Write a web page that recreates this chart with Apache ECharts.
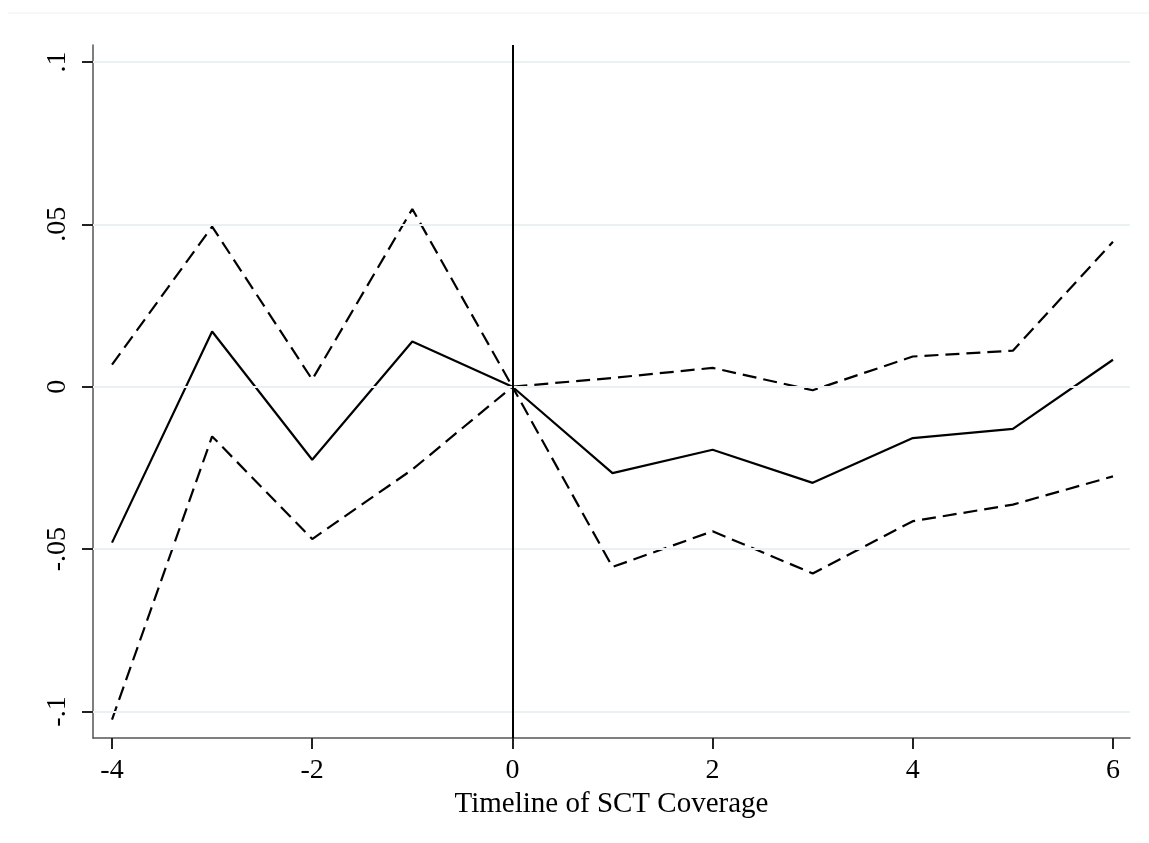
<!DOCTYPE html>
<html><head><meta charset="utf-8">
<script src="https://cdn.jsdelivr.net/npm/echarts@6/dist/echarts.min.js"></script>
<style>html,body{margin:0;padding:0;background:#fff}#c{width:1149px;height:843px}</style>
</head><body><div id="c"></div>
<script>
const periods = [-4,-3,-2,-1,0,1,2,3,4,5,6];
const estimate = [-0.048,0.017,-0.0225,0.0139,0,-0.0266,-0.0194,-0.0296,-0.0158,-0.013,0.0083];
const upperCI = [0.0068,0.0493,0.0022,0.0547,0,0.0027,0.0058,-0.0011,0.0093,0.0111,0.0446];
const lowerCI = [-0.1025,-0.0153,-0.0469,-0.0255,0,-0.0555,-0.0445,-0.0575,-0.0414,-0.0363,-0.0276];
const xTicks = [-4,-2,0,2,4,6];
const yTicks = [-0.1,-0.05,0,0.05,0.1];
const yTickLabels = ['-.1','-.05','0','.05','.1'];
const eventPeriod = 0;
const xTitle = 'Timeline of SCT Coverage';

const font = 'Liberation Serif';
const pair = arr => periods.map((p,i)=>[p,arr[i]]);
const chart = echarts.init(document.getElementById('c'));
chart.setOption({
  animation:false,
  backgroundColor:'#fff',
  graphic:[{type:'line',shape:{x1:8,y1:13,x2:1149,y2:13},style:{stroke:'#eef0f0',lineWidth:1}}],
  grid:{left:93,right:19,top:45,bottom:105},
  xAxis:{type:'value',min:-4.19,max:6.17,
    name:xTitle,nameLocation:'middle',nameGap:47,
    nameTextStyle:{fontFamily:font,fontSize:29,color:'#000'},
    axisLine:{show:true,onZero:false,lineStyle:{color:'#555',width:1.5}},
    axisTick:{show:true,inside:false,length:11,lineStyle:{color:'#222',width:2},customValues:xTicks},
    axisLabel:{fontFamily:font,fontSize:28,color:'#000',margin:19,customValues:xTicks,formatter:v=>String(v)},
    splitLine:{show:false}},
  yAxis:{type:'value',min:-0.10815,max:0.1052,
    axisLine:{show:true,onZero:false,lineStyle:{color:'#555',width:1.5}},
    axisTick:{show:true,inside:false,length:11,lineStyle:{color:'#222',width:2},customValues:yTicks},
    axisLabel:{fontFamily:font,fontSize:28,color:'#000',rotate:90,margin:21,customValues:yTicks,
      formatter:v=>{const i=yTicks.findIndex(t=>Math.abs(t-v)<1e-9);return i>=0?yTickLabels[i]:'';}},
    splitLine:{show:false}},
  series:[
    {type:'line',data:[],silent:true,
      markLine:{silent:true,symbol:'none',label:{show:false},animation:false,
        lineStyle:{color:'#e9f1f3',width:2,type:'solid'},
        data:yTicks.map(t=>({yAxis:t}))}},
    {type:'line',data:pair(upperCI),symbol:'none',lineStyle:{color:'#000',width:2.2,type:[14,7]},z:3},
    {type:'line',data:pair(lowerCI),symbol:'none',lineStyle:{color:'#000',width:2.2,type:[14,7]},z:3},
    {type:'line',data:pair(estimate),symbol:'none',lineStyle:{color:'#000',width:2.2,type:'solid'},z:4,
      markLine:{silent:true,symbol:'none',label:{show:false},animation:false,
        lineStyle:{color:'#000',width:2,type:'solid'},
        data:[{xAxis:eventPeriod}]}}
  ]
});
</script></body></html>
